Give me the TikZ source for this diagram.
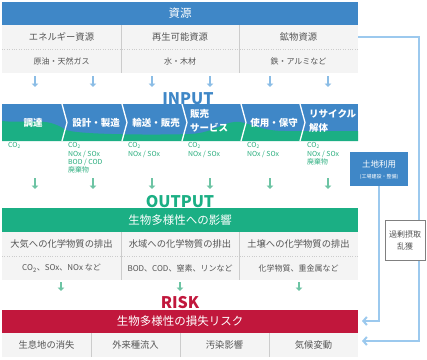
\documentclass[tikz,border=0pt]{standalone}
\usepackage{fontspec}
\setmainfont{Noto Sans CJK JP}
\usetikzlibrary{arrows.meta}
\definecolor{cblue}{HTML}{3F87C7}
\definecolor{cgreen}{HTML}{1BAF84}
\definecolor{cred}{HTML}{C1173C}
\definecolor{cgray}{HTML}{F4F4F4}
\definecolor{cline}{HTML}{CCCCCC}
\definecolor{ctxt}{HTML}{555555}
\definecolor{larrow}{HTML}{8BBDE6}
\definecolor{garrow}{HTML}{6DC4A4}
\definecolor{gtext}{HTML}{2AAE7E}
\definecolor{cconn}{HTML}{9CC9EE}
\tikzset{
  bar/.style={minimum width=356pt, minimum height=23pt, inner sep=0pt, text=white, font=\fontsize{11.5}{13}\selectfont},
  celltxt/.style={text=ctxt, inner sep=0pt, font=\fontsize{9.3}{11}\selectfont},
  subtxt/.style={text=ctxt, inner sep=0pt, font=\fontsize{8}{10}\selectfont},
  stagetxt/.style={text=white, inner sep=0pt, align=left, font=\bfseries\fontsize{9.5}{14.5}\selectfont},
  emis/.style={text=gtext, anchor=north west, inner sep=0pt, align=left, font=\fontsize{6.9}{8.3}\selectfont},
  barrow/.style={draw=larrow, line width=2.2pt, -{Triangle[width=6.5pt,length=3.5pt]}},
  garr/.style={draw=garrow, line width=2.2pt, -{Triangle[width=6.5pt,length=3.5pt]}},
  conn/.style={draw=cconn, line width=2pt, -{Straight Barb[length=3.5pt,width=8pt]}},
  biglabel/.style={inner sep=0pt, font=\bfseries\fontsize{16}{18}\selectfont},
}
\begin{document}
\begin{tikzpicture}[x=1pt,y=-1pt]
\useasboundingbox (0,0) rectangle (427,359);
\fill[white] (0,0) rectangle (427,359);

% ---------- resources ----------
\node[bar, fill=cblue] (res) at (180,13.5) {資源};
\fill[cgray] (2,25) rectangle (358,73);
\draw[cline, dotted] (2,49) -- (358,49);
\draw[cline, line width=1pt] (121,25) -- (121,73) (239,25) -- (239,73);
\node[celltxt] (r1) at (61.5,37) {エネルギー資源};
\node[celltxt] (r2) at (180,37) {再生可能資源};
\node[celltxt] (r3) at (298.5,37) {鉱物資源};
\node[subtxt] (s1) at (61.5,61) {原油・天然ガス};
\node[subtxt] (s2) at (180,61) {水・木材};
\node[subtxt] (s3) at (298.5,61) {鉄・アルミなど};

\foreach \x [count=\i] in {35,93,152,210,270,328} {
  \coordinate (ba\i) at (\x,76);
  \coordinate (bb\i) at (\x,87);
  \draw[barrow] (ba\i) -- (bb\i);
}

% ---------- INPUT ----------
\node[biglabel, text=cblue] (inp) at (188,99) {INPUT};
\fill[cblue] (2,104) rectangle (358,141);
\fill[cgreen] (2,121) .. controls (30,124) and (45,116) .. (66,130)
  .. controls (80,135) and (160,135) .. (190,134)
  .. controls (215,133) and (225,120) .. (240,122)
  .. controls (252,124) and (262,131) .. (285,131) -- (358,131)
  -- (358,141) -- (2,141) -- cycle;
\foreach \x in {62,122,182,241,300} {
  \draw[white, line width=1.3pt] (\x,104) -- (\x+5,122.5) -- (\x,141);
}
\node[stagetxt] (p1) at (33,123) {調達};
\node[stagetxt] (p2) at (96,123) {設計・製造};
\node[stagetxt] (p3) at (156,123) {輸送・販売};
\node[stagetxt, anchor=west] (p4) at (190,121) {販売\\サービス};
\node[stagetxt] (p5) at (274,123) {使用・保守};
\node[stagetxt, anchor=west] (p6) at (309,121) {リサイクル\\解体};

\node[emis] (e1) at (8,142.5) {CO\textsubscript{2}};
\node[emis] (e2) at (68,142.5) {CO\textsubscript{2}\\NOx / SOx\\BOD / COD\\廃棄物};
\node[emis] (e3) at (128,142.5) {CO\textsubscript{2}\\NOx / SOx};
\node[emis] (e4) at (188,142.5) {CO\textsubscript{2}\\NOx / SOx};
\node[emis] (e5) at (247,142.5) {CO\textsubscript{2}\\NOx / SOx};
\node[emis] (e6) at (307,142.5) {CO\textsubscript{2}\\NOx / SOx\\廃棄物};

\foreach \x [count=\i] in {35,93,152,210,270,328} {
  \coordinate (ga\i) at (\x,178);
  \coordinate (gb\i) at (\x,189);
  \draw[garr] (ga\i) -- (gb\i);
}

% ---------- OUTPUT ----------
\node[biglabel, text=cgreen] (outp) at (180,201.5) {OUTPUT};
\node[bar, fill=cgreen, minimum height=24pt] (imp) at (180,220) {生物多様性への影響};
\fill[cgray] (2,232) rectangle (358,280);
\draw[cline, dotted] (2,256) -- (358,256);
\draw[cline, line width=1pt] (121,232) -- (121,280) (239,232) -- (239,280);
\node[celltxt] (o1) at (61.5,244) {大気への化学物質の排出};
\node[celltxt] (o2) at (180,244) {水域への化学物質の排出};
\node[celltxt] (o3) at (298.5,244) {土壌への化学物質の排出};
\node[subtxt] (t1) at (61.5,268) {CO\textsubscript{2}、SOx、NOx など};
\node[subtxt] (t2) at (180,268) {BOD、COD、窒素、リンなど};
\node[subtxt] (t3) at (298.5,268) {化学物質、重金属など};

\foreach \x [count=\i] in {61,180,299} {
  \coordinate (ha\i) at (\x,282);
  \coordinate (hb\i) at (\x,291);
  \draw[garr] (ha\i) -- (hb\i);
}

% ---------- RISK ----------
\node[biglabel, text=cred] (risk) at (180,303) {RISK};
\node[bar, fill=cred] (loss) at (180,321.5) {生物多様性の損失リスク};
\fill[cgray] (2,333) rectangle (358,357);
\draw[cline, line width=1pt] (91,333) -- (91,357) (180,333) -- (180,357) (269,333) -- (269,357);
\node[celltxt] (k1) at (46.5,345) {生息地の消失};
\node[celltxt] (k2) at (135.5,345) {外来種流入};
\node[celltxt] (k3) at (224.5,345) {汚染影響};
\node[celltxt] (k4) at (313.5,345) {気候変動};

% ---------- side connectors ----------
\coordinate (mineE) at (358,37);
\coordinate (cA) at (419,37);
\coordinate (cB) at (419,341);
\coordinate (lossRow) at (362,341);
\draw[conn] (mineE) -- (cA) -- (cB) -- (lossRow);

\node[fill=cblue, minimum width=58pt, minimum height=34pt, inner sep=0pt] (land) at (379,169) {};
\node[text=white, inner sep=0pt, font=\fontsize{8.5}{10}\selectfont] (landt) at (379,164) {土地利用};
\node[text=white, inner sep=0pt, font=\fontsize{5}{6}\selectfont] (lands) at (379,177) {(工場建設・整備)};
\coordinate (cC) at (379,321);
\coordinate (lossBar) at (362,321);
\draw[conn] (land.south) -- (cC) -- (lossBar);

\node[draw=gray, fill=white, line width=0.6pt, minimum width=40pt, minimum height=40pt, inner sep=0pt, align=center, text=ctxt, font=\fontsize{8}{12}\selectfont] (over) at (405,240) {過剰摂取\\乱獲};
\end{tikzpicture}
\end{document}
